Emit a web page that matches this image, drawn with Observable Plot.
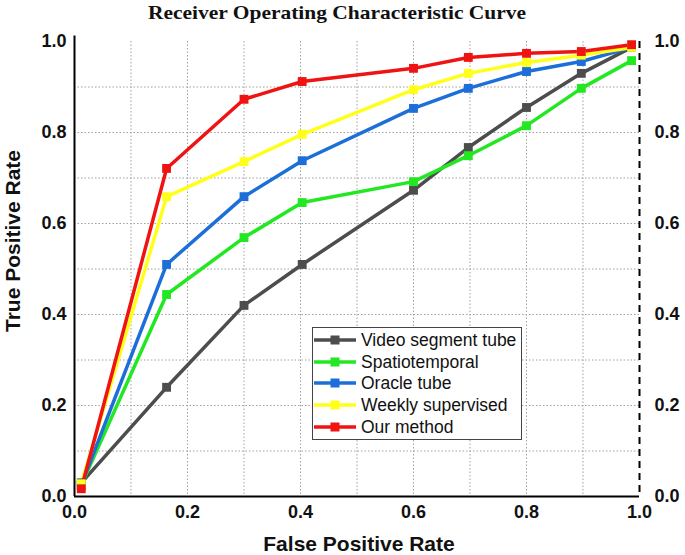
<!DOCTYPE html>
<html>
<head>
<meta charset="utf-8">
<script src="https://cdn.jsdelivr.net/npm/d3@7"></script>
<script src="https://cdn.jsdelivr.net/npm/@observablehq/plot@0.6"></script>
<style>
  body { margin: 0; background: #fff; }
  #wrap { position: relative; width: 685px; height: 555px; overflow: hidden; }
  #legend {
    position: absolute; left: 312px; top: 327px; width: 210px; height: 113px;
    border: 1.5px solid #444; background: #fff; box-sizing: border-box;
    font-family: "Liberation Sans", Arial, sans-serif; font-size: 17.5px; color: #111;
  }
  .row { position: absolute; left: 0; height: 22px; display: flex; align-items: center; white-space: nowrap; }
  .row svg { margin-right: 4px; }
</style>
</head>
<body>
<div id="wrap"><div id="legend"></div></div>
<script>
// ---- data ----
const titleText = "Receiver Operating Characteristic Curve";
const xLabel = "False Positive Rate";
const yLabel = "True Positive Rate";
const fpr = [0.012, 0.163, 0.3, 0.403, 0.6, 0.697, 0.8, 0.897, 0.986];
const seriesNames = ["Video segment tube", "Spatiotemporal", "Oracle tube", "Weekly supervised", "Our method"];
const videoSegmentTube = [0.03, 0.24, 0.42, 0.51, 0.673, 0.767, 0.855, 0.93, 0.987];
const spatiotemporal   = [0.025, 0.444, 0.569, 0.646, 0.692, 0.749, 0.815, 0.897, 0.958];
const oracleTube       = [0.025, 0.51, 0.659, 0.738, 0.853, 0.897, 0.934, 0.956, 0.987];
const weeklySupervised = [0.028, 0.659, 0.736, 0.796, 0.894, 0.93, 0.954, 0.97, 0.987];
const ourMethod        = [0.017, 0.721, 0.873, 0.912, 0.941, 0.965, 0.974, 0.978, 0.993];
const seriesColors = ["#4d4d4d", "#22e822", "#1c6fd8", "#ffff1a", "#f01313"];
const axisTicks = [0, 0.2, 0.4, 0.6, 0.8, 1.0];
const gridTicks = [0.1, 0.2, 0.3, 0.4, 0.5, 0.6, 0.7, 0.8, 0.9];

// ---- build table ----
const allSeries = [videoSegmentTube, spatiotemporal, oracleTube, weeklySupervised, ourMethod];
const data = allSeries.flatMap((vals, i) =>
  vals.map((v, j) => ({ fpr: fpr[j], tpr: v, name: seriesNames[i] })));

const fmt = d3.format(".1f");
const tickStyle = { tickSize: 0, fontSize: 18, fontWeight: "bold", label: null, tickFormat: fmt, fill: "#111" };
const gridStyle = { stroke: "#a0a0a0", strokeOpacity: 1, strokeWidth: 1, strokeDasharray: "1.5,2" };

const chart = Plot.plot({
  width: 685, height: 555,
  marginLeft: 74, marginRight: 46, marginTop: 41, marginBottom: 59,
  x: { domain: [0, 1] },
  y: { domain: [0, 1] },
  color: { domain: seriesNames, range: seriesColors },
  style: { fontFamily: "'Liberation Sans', Arial, sans-serif", background: "#fff", overflow: "visible" },
  marks: [
    Plot.gridX(gridTicks, gridStyle),
    Plot.gridY(gridTicks, gridStyle),
    Plot.axisY(axisTicks, { ...tickStyle, anchor: "left", tickPadding: 8 }),
    Plot.axisY(axisTicks, { ...tickStyle, anchor: "right", tickPadding: 15 }),
    Plot.axisX(axisTicks, { ...tickStyle, anchor: "bottom", tickPadding: 9 }),
    Plot.ruleX([0], { stroke: "#000", strokeWidth: 2, y1: 0, y2: 1.012 }),
    Plot.ruleY([0], { stroke: "#000", strokeWidth: 2 }),
    Plot.ruleX([1], { stroke: "#000", strokeWidth: 2, strokeDasharray: "7,5" }),
    Plot.line(data, { x: "fpr", y: "tpr", z: "name", stroke: "name", strokeWidth: 3.5 }),
    Plot.dot(data, { x: "fpr", y: "tpr", fill: "name", symbol: "square", r: 5, stroke: null }),
    Plot.text([titleText], { text: d => d, frameAnchor: "top", textAnchor: "middle", dx: -20, dy: -23, lineAnchor: "bottom",
      fontFamily: "'Liberation Serif', 'Times New Roman', serif", fontWeight: "bold", fontSize: 19, fill: "#111" }),
    Plot.text([xLabel], { text: d => d, frameAnchor: "bottom", textAnchor: "middle", dx: 2, dy: 54, lineAnchor: "bottom",
      fontSize: 21, fontWeight: "bold", fill: "#111" }),
    Plot.text([yLabel], { text: d => d, frameAnchor: "left", textAnchor: "middle", dx: -61, dy: -28, rotate: -90,
      fontSize: 21, fontWeight: "bold", fill: "#111" })
  ]
});
d3.select(chart).selectAll("text")
  .filter(function () { return this.textContent === titleText; })
  .attr("textLength", 378).attr("lengthAdjust", "spacingAndGlyphs");
document.getElementById("wrap").prepend(chart);
chart.style.position = "absolute"; chart.style.left = "0"; chart.style.top = "0";
document.getElementById("legend").style.zIndex = 2;

// ---- legend ----
const legend = document.getElementById("legend");
const rowTops = [1, 23, 44, 66, 88];
seriesNames.forEach((name, i) => {
  const row = document.createElement("div");
  row.className = "row";
  row.style.top = rowTops[i] + "px";
  row.innerHTML = `<svg width="44" height="14"><line x1="1" y1="7" x2="43" y2="7" stroke="${seriesColors[i]}" stroke-width="3.5"/>` +
    `<rect x="17.5" y="2.5" width="9" height="9" fill="${seriesColors[i]}"/></svg><span>${name}</span>`;
  legend.appendChild(row);
});
</script>
</body>
</html>
